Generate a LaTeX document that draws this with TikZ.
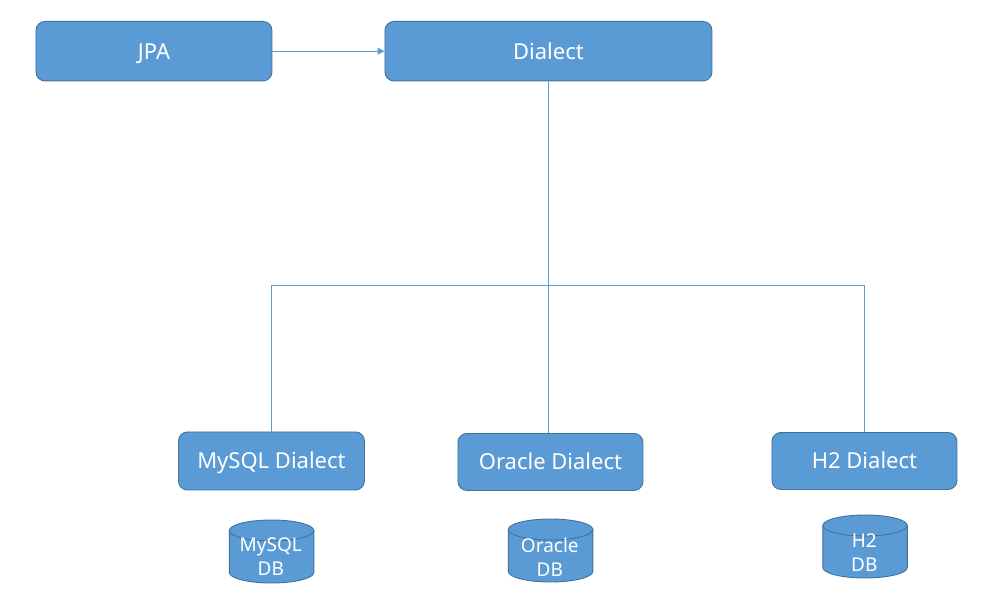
\documentclass[tikz,border=0pt]{standalone}
\usepackage{fontspec}
\setmainfont{Noto Sans}
\usetikzlibrary{arrows.meta}
\definecolor{fillb}{HTML}{5B9BD5}
\definecolor{edgeb}{HTML}{41719C}
\tikzset{
  x=1pt,y=-1pt,
  boxn/.style={draw=edgeb,fill=fillb,line width=0.9pt,rounded corners=9pt,text=white,inner sep=0pt,anchor=north west,align=center,text height=20pt,text depth=4pt,font=\fontsize{22}{26}\selectfont},
  conn/.style={draw=fillb,line width=1pt},
  cyltext/.style={text=white,align=center,font=\fontsize{19}{24}\selectfont,inner sep=0pt},
  cylshape/.style={draw=edgeb,fill=fillb,line width=0.9pt}
}
\newcommand{\dbcyl}[5]{% name, left x, top y, text, text offset
  \path[cylshape] (#2,#3+10.5) -- (#2,#3+52.5) arc[x radius=42.25,y radius=10.5,start angle=180,end angle=0]
     -- (#2+84.5,#3+10.5) -- cycle;
  \path[cylshape] (#2+42.25,#3+10.5) ellipse[x radius=42.25,y radius=10.5];
  \node[cyltext] (#1) at (#2+41.5,#3+#5) {#4};
}
\begin{document}
\begin{tikzpicture}
\useasboundingbox (0,0) rectangle (991,602);
\node[boxn,minimum width=236pt,minimum height=59.5pt] (jpa) at (35.5,21) {JPA};
\node[boxn,minimum width=327pt,minimum height=59.5pt] (dialect) at (384.5,21) {Dialect};
\node[boxn,minimum width=186pt,minimum height=58pt] (mysql) at (178,431.5) {MySQL Dialect};
\node[boxn,minimum width=185pt,minimum height=57pt] (oracle) at (457.5,433) {Oracle Dialect};
\node[boxn,minimum width=185pt,minimum height=57pt] (h2) at (771.5,432) {H2 Dialect};
\coordinate (junction) at (dialect.south |- 0,285.5);
\draw[conn] (dialect.south) -- (dialect.south |- oracle.north);
\draw[conn] (mysql.north) -- (mysql.north |- junction) -- (h2.north |- junction) -- (h2.north);
\draw[conn,-{Triangle[length=7pt,width=7pt]}] (jpa.east) -- (dialect.west);
\dbcyl{mysqldb}{229.3}{520}{MySQL\\DB}{37}
\dbcyl{oracledb}{508.3}{519}{Oracle\\DB}{38}
\dbcyl{hdb}{822.8}{515}{H2\\DB}{38}
\end{tikzpicture}
\end{document}
